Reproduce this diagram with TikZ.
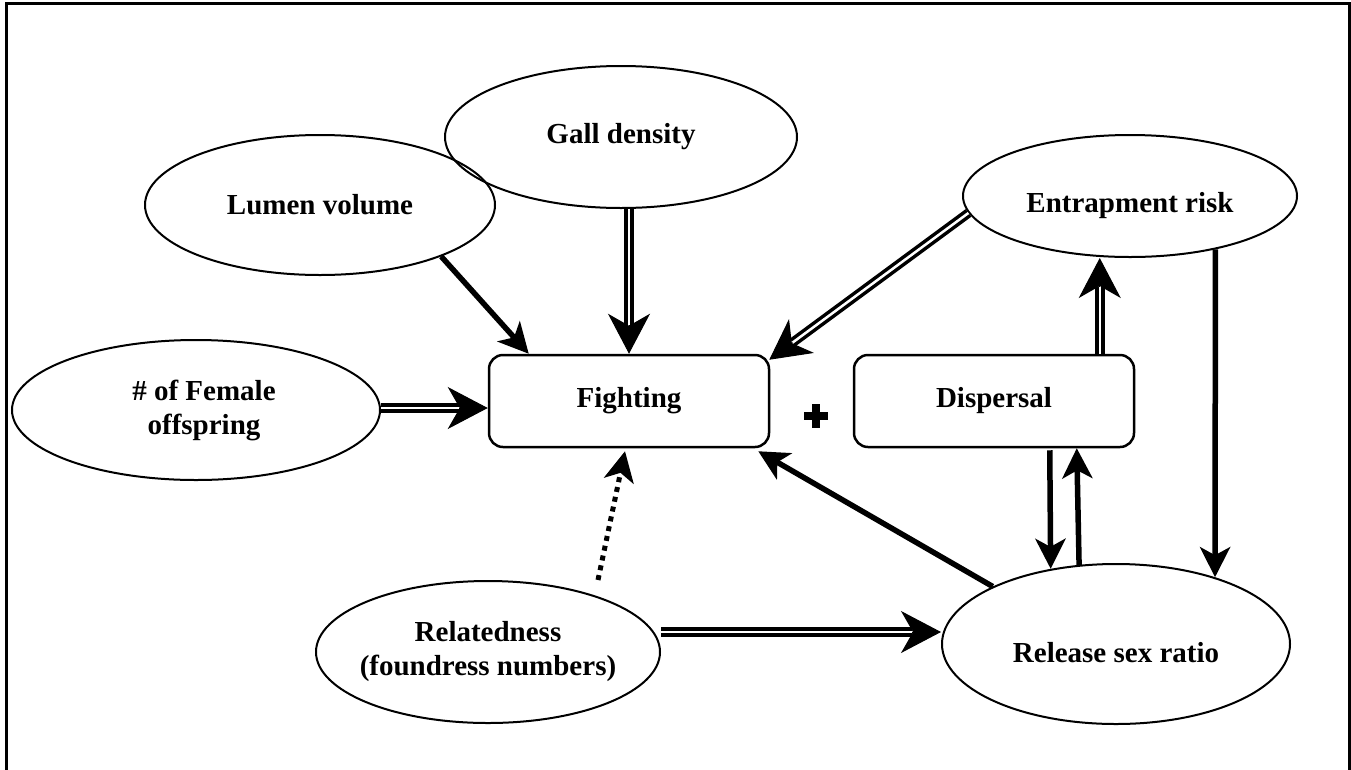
\documentclass[tikz,border=0pt]{standalone}
\usepackage{fontspec}
\setmainfont{Liberation Serif}
\usetikzlibrary{arrows.meta,calc,shapes.geometric}
\begin{document}
\begin{tikzpicture}[x=1pt,y=-1pt,
  ell/.style={ellipse,draw,line width=2pt,inner sep=0pt},
  lab/.style={align=center,inner sep=0pt,font=\fontsize{29}{34}\selectfont\bfseries},
  rbox/.style={draw,line width=2.5pt,rounded corners=14pt,minimum width=280pt,
    minimum height=92pt,inner sep=0pt,font=\fontsize{29}{34}\selectfont\bfseries},
  sarr/.style={line width=5.5pt,-{Stealth[length=30pt,width=30pt,inset=8pt]}},
  darr/.style={line width=5pt,dash pattern=on 5pt off 5pt,-{Stealth[length=30pt,width=30pt,inset=8pt]}},
  dtip/.style={line width=1pt,-{Stealth[length=40pt,width=42pt,inset=12pt]}},
  dshaft/.style={line width=3.5pt,double=white,double distance=2.5pt,shorten >=29pt},
  frame/.style={line width=3pt}]
\useasboundingbox (0,0) rectangle (1351,769);
\draw[frame] (6,775) -- (6,3) -- (1349,3) -- (1349,775);
% nodes
\node[ell,minimum width=352pt,minimum height=142pt,label={[lab]center:Gall density}] (gall) at (621,137) {};
\node[ell,minimum width=350pt,minimum height=140pt,label={[lab]center:Lumen volume}] (lum) at (320,205) {};
\node[ell,minimum width=368pt,minimum height=140pt,label={[lab,xshift=8pt]center:\# of Female\\offspring}] (fem) at (196,410) {};
\node[ell,minimum width=334pt,minimum height=122pt,label={[lab,yshift=-10pt]center:Entrapment risk}] (ent) at (1130,196) {};
\node[ell,minimum width=344pt,minimum height=142pt,label={[lab]center:Relatedness\\(foundress numbers)}] (rel) at (488,652) {};
\node[ell,minimum width=348pt,minimum height=160pt,label={[lab,yshift=-9pt]center:Release sex ratio}] (rsr) at (1116,644) {};
\node[rbox] (fight) at (629,401) {Fighting};
\node[rbox] (disp) at (994,401) {Dispersal};
% plus sign
\fill (804,412) rectangle (828,420);
\fill (812,404) rectangle (820,428);
% connectors
\draw[sarr] (lum.-23) -- ($(fight.north west)+(41,0)$);
\draw[dtip] (gall.south -| fight.north) -- (fight.north);
\draw[dshaft] (gall.south -| fight.north) -- (fight.north);
\draw[dtip] (fem.east |- 0,408) -- (fight.west |- 0,408);
\draw[dshaft] (fem.east |- 0,408) -- (fight.west |- 0,408);
\draw[dtip] (ent.186) -- ($(fight.north east)+(-1,6)$);
\draw[dshaft] (ent.186) -- ($(fight.north east)+(-1,6)$);
\coordinate (de) at ($(disp.north west)+(247,0)$);
\draw[dtip] (de) -- (ent.south -| de);
\draw[dshaft] (de) -- (ent.south -| de);
\draw[sarr] (ent.-32.9) -- (rsr.34.8);
\coordinate (dd) at ($(disp.south west)+(197,2)$);
\draw[sarr] (dd) -- (rsr.131.2);
\coordinate (du) at ($(disp.south west)+(224,0)$);
\draw[sarr] (rsr.115.9) -- (du);
\draw[sarr] (rsr.155) -- ($(fight.south east)+(-12,3)$);
\draw[darr] (rel.north -| 598,0) -- ($(fight.south)+(-4,3)$);
\draw[dtip] (rel.east |- 0,632) -- (rsr.west |- 0,632);
\draw[dshaft] (rel.east |- 0,632) -- (rsr.west |- 0,632);
\end{tikzpicture}
\end{document}
